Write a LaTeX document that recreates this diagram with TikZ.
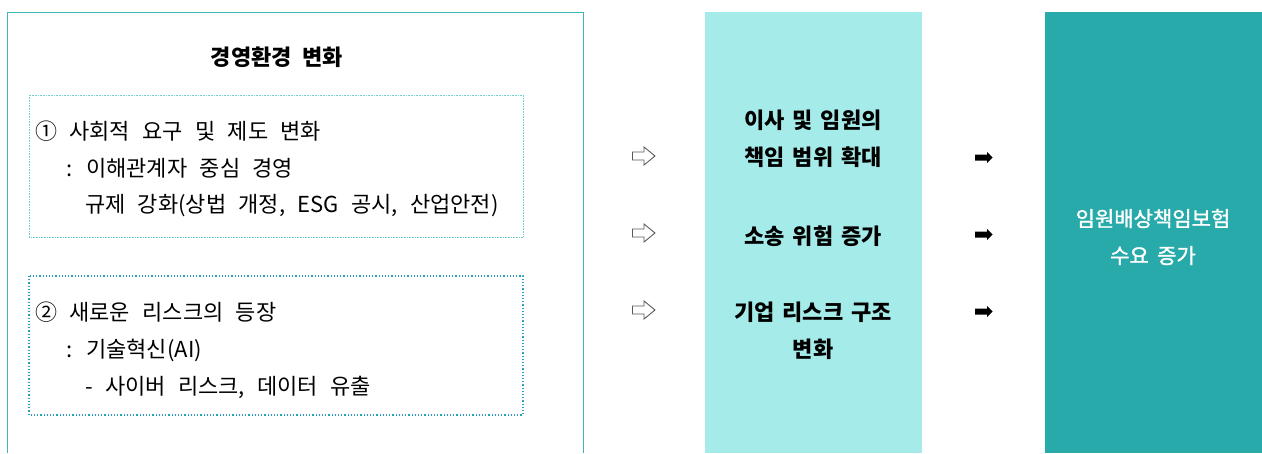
\documentclass[tikz,border=0pt]{standalone}
\usepackage{fontspec}
\setmainfont{Noto Sans CJK KR}
\newfontfamily\medfont[FakeBold=1.4]{Noto Sans CJK KR}
\newcommand\wsbody{\spaceskip=0.56em\relax}
\newcommand\wshead{\spaceskip=0.5em\relax}
\newcommand\wsmid{\spaceskip=0.36em\relax}
\newcommand\wsright{\spaceskip=0.4em\relax}
\definecolor{outerline}{HTML}{3DB6B8}
\definecolor{dotA}{HTML}{6FCFCF}
\definecolor{dotB}{HTML}{2A9FBA}
\definecolor{midfill}{HTML}{A5EBEA}
\definecolor{rightfill}{HTML}{28AAAA}
\tikzset{
  body/.style={anchor=west, inner sep=0pt, font={\fontsize{22}{26}\selectfont\wsbody}},
  head/.style={inner sep=0pt, font={\fontsize{22}{26}\selectfont\bfseries\wshead}, align=center},
  midtxt/.style={inner sep=0pt, font={\fontsize{22}{37}\selectfont\bfseries\wsmid}, align=center},
  righttxt/.style={inner sep=0pt, text=white, font={\fontsize{21}{37}\selectfont\medfont\wsright}, align=center},
  pics/hollowarrow/.style={code={
    \draw[black!65, fill=white, line width=0.9pt, line join=miter]
      (-11.5,-4) -- (0,-4) -- (0,-9) -- (11,0) -- (0,9) -- (0,4) -- (-11.5,4) -- cycle;}},
  pics/fullarrow/.style={code={
    \fill[black]
      (-9,-3) -- (3,-3) -- (3,-5.5) -- (8.5,0) -- (3,5.5) -- (3,3) -- (-9,3) -- cycle;}}
}
\begin{document}
\begin{tikzpicture}[x=1pt,y=-1pt]
\useasboundingbox (0,0) rectangle (1262,453);
% left outer frame (open at bottom)
\draw[outerline, line width=0.8pt] (7,453) -- (7,12) -- (583,12) -- (583,453);
\node[head] (title) at (277,57) {경영환경 변화};
% dotted boxes
\draw[dotA, line width=0.6pt, densely dotted] (29,95) rectangle (523,237);
\draw[dotB, line width=1.2pt, dotted] (29,276) rectangle (523,415);
\node[body] (a1) at (35,131) {① 사회적 요구 및 제도 변화};
\node[body] (a2) at (66,168) {: 이해관계자 중심 경영};
\node[body] (a3) at (85,206) {규제 강화(상법 개정, ESG 공시, 산업안전)};
\node[body] (b1) at (35,312) {② 새로운 리스크의 등장};
\node[body] (b2) at (66,350) {: 기술혁신(AI)};
\node[body] (b3) at (85,387) {- 사이버 리스크, 데이터 유출};
% middle column
\fill[midfill] (705,12) rectangle (922,453);
\node[midtxt] (m1) at (813,139) {이사 및 임원의\\책임 범위 확대};
\node[midtxt] (m2) at (813,236) {소송 위험 증가};
\node[midtxt] (m3) at (813,331) {기업 리스크 구조\\변화};
% right column
\fill[rightfill] (1045,12) rectangle (1262,453);
\node[righttxt] (r) at (1153,237) {임원배상책임보험\\수요 증가};
% arrows
\pic (h1) at (644,156) {hollowarrow};
\pic (h2) at (644,233) {hollowarrow};
\pic (h3) at (644,310) {hollowarrow};
\pic (f1) at (984,157.5) {fullarrow};
\pic (f2) at (984,234.5) {fullarrow};
\pic (f3) at (984,311.5) {fullarrow};
\end{tikzpicture}
\end{document}
